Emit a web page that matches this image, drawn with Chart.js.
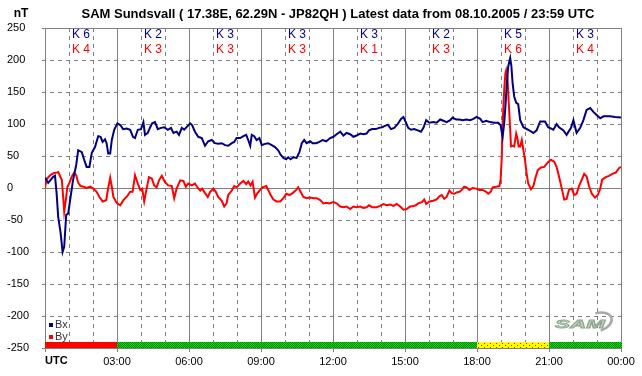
<!DOCTYPE html>
<html>
<head>
<meta charset="utf-8">
<script src="https://cdn.jsdelivr.net/npm/chart.js@4"></script>
<style>
html, body { margin: 0; padding: 0; background: #fff; }
</style>
</head>
<body>
<canvas id="mag" width="642" height="376"></canvas>
<script>
// minutes after 00:00 UTC and nT readings
var bxTime = [0,8,20,25,29,33,39,44,48,53,
    58,64,70,78,83,92,98,104,111,117,
    125,133,139,144,150,154,158,163,167,173,
    181,189,195,204,213,220,225,232,240,246,
    250,257,263,268,275,282,290,298,307,315,
    321,329,335,342,348,357,363,368,375,383,
    392,400,408,417,425,433,442,450,458,467,
    473,479,488,496,503,508,513,517,523,529,
    536,542,550,558,567,575,583,589,596,603,
    608,614,621,629,636,642,648,654,663,669,
    678,686,694,703,713,721,729,738,746,754,
    763,771,779,788,796,804,810,818,827,835,
    843,850,857,865,873,882,890,896,902,908,
    915,923,932,940,946,953,961,971,979,988,
    996,1004,1013,1019,1028,1036,1044,1053,1063,1071,
    1079,1088,1094,1103,1113,1123,1133,1139,1144,1148,
    1151,1154,1158,1163,1166,1169,1173,1178,1183,1188,
    1196,1208,1221,1229,1238,1250,1258,1271,1279,1285,
    1296,1304,1315,1321,1329,1338,1346,1354,1363,1371,
    1379,1388,1396,1413,1425,1440];
var bxVal = [16,8,17,19,-8,-45,-70,-100,-92,-42,
    -40,-14,12,36,59,56,44,33,33,55,
    64,81,80,72,76,70,54,54,75,91,
    101,98,92,93,91,80,78,91,92,103,
    83,86,95,101,103,92,94,95,91,94,
    86,88,83,94,91,97,101,98,88,80,
    78,66,73,75,70,69,70,67,66,70,
    72,78,78,81,83,75,66,83,81,75,
    78,67,69,70,67,64,59,52,47,45,
    48,45,48,47,56,70,75,70,73,70,
    70,72,75,73,78,80,84,88,82,86,
    84,80,82,85,84,85,90,92,92,94,
    95,97,99,92,94,100,108,111,103,94,
    91,92,90,88,94,106,102,103,102,107,
    105,103,106,110,107,107,106,107,106,108,
    111,108,103,105,103,102,102,98,80,101,
    127,158,190,203,190,164,143,133,131,106,
    95,91,86,90,104,104,95,91,100,95,
    90,83,94,106,86,94,106,122,125,119,
    114,109,112,112,111,110];

var byTime = [0,4,13,21,29,33,38,42,46,48,
    52,56,61,67,73,78,83,89,96,104,
    113,121,129,136,144,153,158,163,167,171,
    179,188,196,204,213,219,225,232,238,243,
    248,254,260,267,273,279,285,292,300,308,
    317,323,329,338,346,352,358,367,375,382,
    388,393,400,407,413,421,427,433,442,448,
    454,458,467,473,479,488,496,503,508,514,
    519,525,531,538,544,553,558,564,571,579,
    588,596,603,611,619,628,633,639,646,654,
    663,671,679,688,696,704,711,721,729,738,
    746,754,763,771,779,788,796,804,810,818,
    829,838,846,854,863,871,879,888,896,904,
    913,921,927,933,942,948,953,961,971,979,
    986,992,998,1004,1011,1017,1023,1029,1036,1042,
    1048,1054,1061,1069,1078,1086,1094,1103,1108,1114,
    1119,1128,1136,1139,1142,1144,1148,1151,1153,1156,
    1159,1163,1165,1169,1173,1178,1181,1184,1188,1192,
    1196,1200,1204,1208,1215,1221,1227,1232,1240,1248,
    1257,1265,1273,1279,1285,1292,1298,1304,1310,1317,
    1323,1329,1335,1342,1348,1354,1360,1367,1375,1382,
    1388,1393,1402,1410,1418,1427,1435,1440];
var byVal = [0,14,20,23,24,25,18,13,-19,-37,
    -19,2,8,18,24,20,8,3,2,0,
    2,-1,-6,-14,-21,-19,0,16,2,-14,
    -23,-27,-19,-14,-6,-6,20,7,-3,-1,
    -21,-1,17,15,4,1,12,19,9,4,
    3,-16,-1,12,11,2,7,4,7,0,
    -4,-1,-8,-14,-6,-1,-6,-14,-20,-29,
    -24,-11,-4,3,1,7,11,6,10,4,
    10,-15,-8,-3,1,3,-3,-11,-18,-21,
    -21,-16,-9,-11,-8,-3,1,-6,-14,-16,
    -15,-16,-16,-19,-24,-23,-24,-22,-24,-29,
    -30,-29,-33,-29,-30,-29,-31,-30,-27,-30,
    -30,-28,-25,-27,-26,-28,-25,-29,-34,-33,
    -29,-28,-27,-24,-22,-18,-25,-21,-20,-18,
    -13,-11,-17,-14,-4,-8,-9,-7,-6,-3,
    2,1,-3,0,-1,-3,-3,-6,-9,-6,
    1,2,3,13,49,101,153,179,184,174,
    137,91,65,66,65,85,78,65,65,75,
    59,44,23,7,-2,3,18,28,32,33,
    40,44,41,33,18,-1,-18,-17,-3,-1,
    -11,-9,3,13,22,18,3,-9,-15,-11,
    -1,13,17,19,22,24,31,33];

var yTicks = [250,200,150,100,50,0,-50,-100,-150,-200,-250];
var hourLabels = ['UTC','03:00','06:00','09:00','12:00','15:00','18:00','21:00','00:00'];
var kBx = [6,2,3,3,3,2,5,3];
var kBy = [4,3,3,3,1,3,6,4];
var kStatus = ['red','green','green','green','green','green','yellow','green'];

var FONT = '"Liberation Sans", Arial, sans-serif';
Chart.defaults.font.family = FONT;
Chart.defaults.color = '#000';

function pairUp(t, v) {
    return t.map(function(m, i) { return { x: m, y: v[i] }; });
}

function tile(w, h, base, dot, spots) {
    var p = document.createElement('canvas');
    p.width = w; p.height = h;
    var g = p.getContext('2d');
    g.fillStyle = base;
    g.fillRect(0, 0, w, h);
    g.fillStyle = dot;
    spots.forEach(function(s) { g.fillRect(s[0], s[1], 1, 1); });
    return g.createPattern(p, 'repeat');
}

var ctx = document.getElementById('mag').getContext('2d');
var fills = {
    red: '#ff0000',
    green: tile(2, 2, '#00dd00', '#008800', [[0, 0], [1, 1]]),
    yellow: tile(6, 4, '#ffff00', '#ff0000', [[1, 1], [4, 3]])
};

var samFrame = {
    id: 'samFrame',
    beforeDatasetsDraw: function(chart) {
        var c = chart.ctx, xs = chart.scales.x, ys = chart.scales.y, a = chart.chartArea;
        c.save();
        c.lineWidth = 1;
        c.strokeStyle = '#808080';
        yTicks.forEach(function(v) {
            var y = Math.round(ys.getPixelForValue(v)) + 0.5;
            c.setLineDash(v % 250 === 0 ? [] : [4, 4]);
            c.beginPath();
            c.moveTo(a.left - 3, y);
            c.lineTo(a.right, y);
            c.stroke();
        });
        for (var h = 0; h <= 24; h++) {
            var x = Math.round(xs.getPixelForValue(h * 60)) + 0.5;
            var solid = h % 3 === 0;
            c.setLineDash(solid ? [] : [4, 4]);
            c.beginPath();
            c.moveTo(x, a.top);
            c.lineTo(x, solid ? a.bottom + 4 : a.bottom);
            c.stroke();
        }
        c.setLineDash([]);
        kStatus.forEach(function(s, i) {
            var x1 = Math.round(xs.getPixelForValue(i * 180));
            var x2 = Math.round(xs.getPixelForValue((i + 1) * 180));
            c.fillStyle = fills[s];
            c.fillRect(x1, a.bottom - 6, x2 - x1 + 1, 6);
        });
        c.restore();
    },
    afterDraw: function(chart) {
        var c = chart.ctx, xs = chart.scales.x, a = chart.chartArea;
        c.save();
        c.textBaseline = 'middle';
        c.fillStyle = '#000';
        c.font = 'bold 13px ' + FONT;
        c.textAlign = 'center';
        c.fillText('SAM Sundsvall ( 17.38E, 62.29N - JP82QH ) Latest data from 08.10.2005 / 23:59 UTC', 338, 14);
        c.font = 'bold 12px ' + FONT;
        c.fillText('nT', 21, 14);
        c.textAlign = 'left';
        c.font = 'bold 11px ' + FONT;
        c.fillText(hourLabels[0], a.left, 361);

        c.font = '12px ' + FONT;
        c.textAlign = 'center';
        kBx.forEach(function(k, i) {
            var x = xs.getPixelForValue(i * 180 + 90);
            c.fillStyle = '#000099';
            c.fillText('K ' + k, x, 35);
            c.fillStyle = '#ff0000';
            c.fillText('K ' + kBy[i], x, 50);
        });

        // legend
        c.font = '11px ' + FONT;
        c.textAlign = 'left';
        chart.data.datasets.forEach(function(ds, i) {
            var y = 325 + i * 12;
            c.fillStyle = ds.borderColor;
            c.fillRect(49, y - 2, 4, 4);
            c.fillStyle = '#333';
            c.fillText(ds.label, 55, y);
        });

        // SAM logo
        c.save();
        c.translate(580, 325);
        c.scale(1.6, 0.8);
        c.font = 'italic bold 14px ' + FONT;
        c.textAlign = 'center';
        c.fillStyle = '#c4dcc4';
        c.strokeStyle = '#8fa58f';
        c.lineWidth = 1;
        c.fillText('SAM', 0, 0);
        c.strokeText('SAM', 0, 0);
        c.restore();
        c.strokeStyle = '#a8a8a8';
        c.lineWidth = 2.5;
        c.beginPath();
        c.ellipse(598, 322, 14, 9, -0.3, -Math.PI / 2, Math.PI / 2);
        c.stroke();
        c.restore();
    }
};

new Chart(ctx, {
    type: 'line',
    data: {
        datasets: [
            { label: 'Bx', data: pairUp(bxTime, bxVal), borderColor: '#000080', borderWidth: 2, pointRadius: 0, tension: 0 },
            { label: 'By', data: pairUp(byTime, byVal), borderColor: '#ff0000', borderWidth: 2, pointRadius: 0, tension: 0 }
        ]
    },
    options: {
        responsive: false,
        animation: false,
        devicePixelRatio: 1,
        layout: { padding: { left: 7, top: 28, right: 21, bottom: 0 } },
        scales: {
            x: {
                type: 'linear',
                min: 0,
                max: 1440,
                grid: { display: false, drawTicks: true, tickLength: 4 },
                border: { display: false },
                ticks: {
                    stepSize: 180,
                    autoSkip: false,
                    maxRotation: 0,
                    padding: 3,
                    font: { size: 11 },
                    callback: function(v) { return v === 0 ? '' : hourLabels[v / 180]; }
                },
                afterFit: function(s) { s.height = 28; }
            },
            y: {
                min: -250,
                max: 250,
                grid: { display: false },
                border: { display: false },
                ticks: {
                    stepSize: 50,
                    crossAlign: 'far',
                    font: { size: 11 }
                },
                afterFit: function(s) { s.width = 38; }
            }
        },
        plugins: {
            legend: { display: false },
            tooltip: { enabled: false },
            title: { display: false }
        }
    },
    plugins: [samFrame]
});
</script>
</body>
</html>
